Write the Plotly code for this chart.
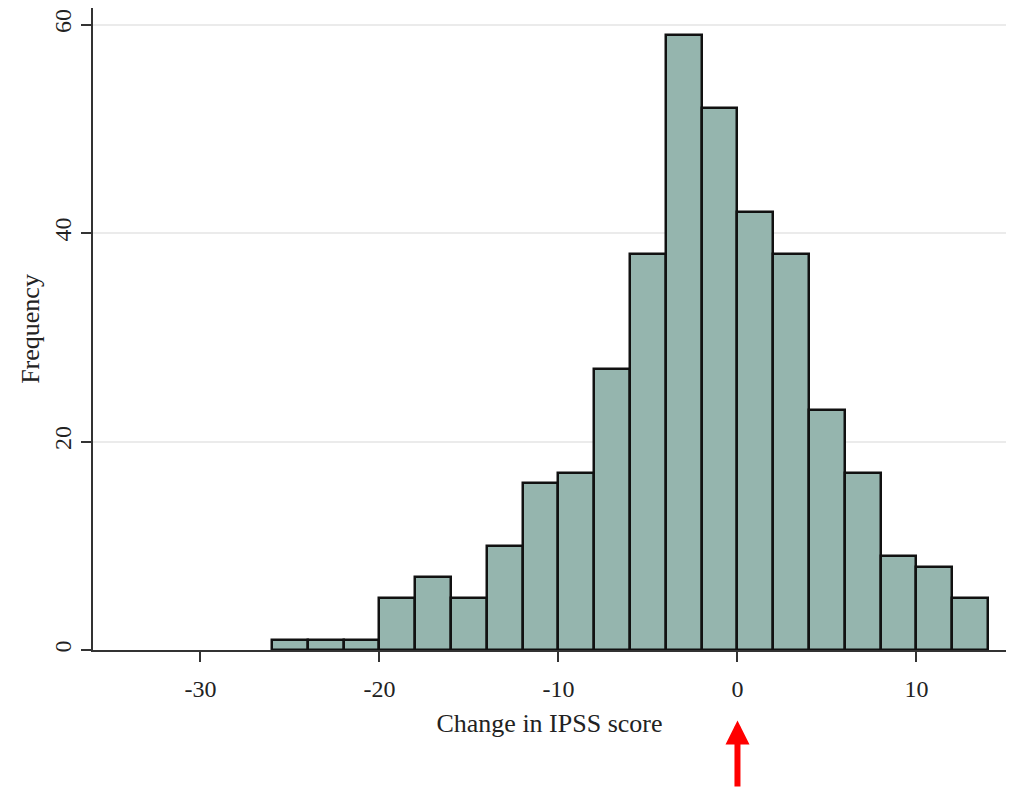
import plotly.graph_objects as go

bin_starts = [-26, -24, -22, -20, -18, -16, -14, -12, -10, -8, -6, -4, -2, 0, 2, 4, 6, 8, 10, 12]
counts = [1, 1, 1, 5, 7, 5, 10, 16, 17, 27, 38, 59, 52, 42, 38, 23, 17, 9, 8, 5]
bin_width = 2
x_ticks = [-30, -20, -10, 0, 10]
y_ticks = [0, 20, 40, 60]

centers = [s + bin_width / 2 for s in bin_starts]

fig = go.Figure()
fig.add_trace(go.Bar(
    x=centers, y=counts, width=[bin_width] * len(counts),
    marker=dict(color="#95b5ae", line=dict(color="#111111", width=2.5)),
    showlegend=False,
))

font_family = "Liberation Serif, Times New Roman, serif"

fig.update_layout(
    width=1016, height=780,
    margin=dict(l=85, r=18, t=0, b=138),
    paper_bgcolor="white", plot_bgcolor="white",
    font=dict(family=font_family, size=24, color="#222222"),
    bargap=0,
    xaxis=dict(
        range=[-36, 15], tickvals=x_ticks, ticktext=[str(v) for v in x_ticks],
        showgrid=False, zeroline=False, automargin=False,
        showline=True, linecolor="#333333", linewidth=2,
        ticks="outside", ticklen=10, tickwidth=1.5, tickcolor="#333333",
        tickfont=dict(size=24), ticklabelstandoff=6,
        title=dict(text="Change in IPSS score", font=dict(size=26), standoff=13),
    ),
    yaxis=dict(
        range=[0, 61.6], tickvals=y_ticks, ticktext=[str(v) for v in y_ticks],
        showgrid=True, gridcolor="#ebebeb", gridwidth=1.5, zeroline=False, automargin=False,
        showline=True, linecolor="#333333", linewidth=2,
        ticks="outside", ticklen=10, tickwidth=1.5, tickcolor="#333333",
        tickfont=dict(size=24), tickangle=-90, ticklabelstandoff=0,
        title=dict(text="Frequency", font=dict(size=26), standoff=3),
    ),
)

fig.add_annotation(
    x=0, xref="x", y=-0.11, yref="paper",
    ax=0, ay=72, axref="pixel", ayref="pixel",
    text="", showarrow=True, arrowhead=2, arrowwidth=6,
    arrowsize=0.8, arrowcolor="#ff0000", standoff=0,
)

fig.write_html("out.html")
